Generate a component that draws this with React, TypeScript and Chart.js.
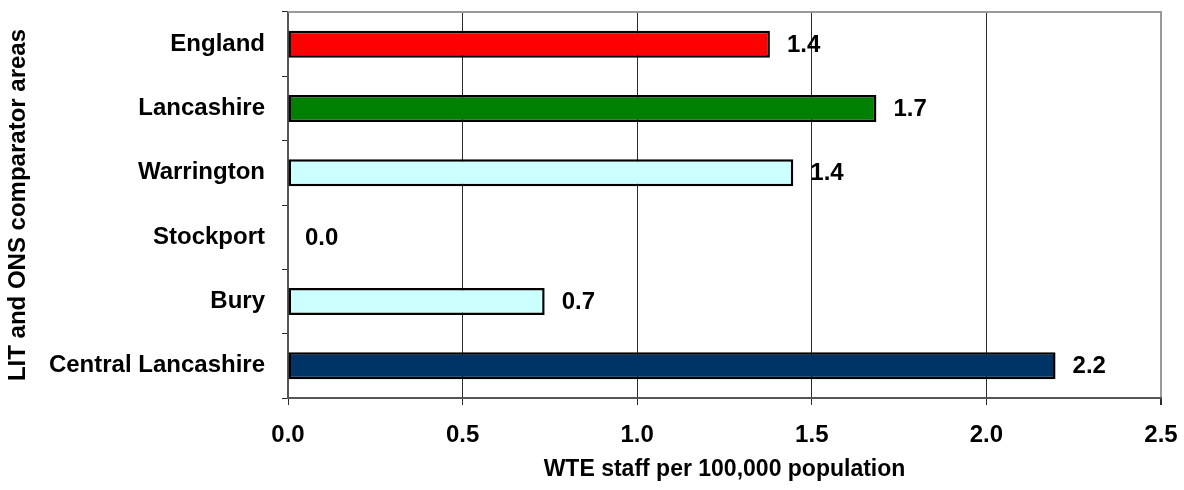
import React, { useEffect, useRef } from "react";
import { Chart, registerables } from "chart.js";

Chart.register(...registerables);

const categories = ["England", "Lancashire", "Warrington", "Stockport", "Bury", "Central Lancashire"];
const values = [1.38, 1.685, 1.447, 0, 0.735, 2.198];
const barColors = ["#FF0000", "#008000", "#CCFFFF", "#CCFFFF", "#CCFFFF", "#003366"];
const xTicks = [0, 0.5, 1, 1.5, 2, 2.5];
const xTitle = "WTE staff per 100,000 population";
const yTitle = "LIT and ONS comparator areas";

const FONT = "'Liberation Sans', Arial, sans-serif";

const valueLabels = {
  id: "valueLabels",
  afterDatasetsDraw(chart: any) {
    const ctx = chart.ctx;
    const meta = chart.getDatasetMeta(0);
    ctx.save();
    ctx.font = `bold 24px ${FONT}`;
    ctx.fillStyle = "#000";
    ctx.textAlign = "left";
    ctx.textBaseline = "middle";
    meta.data.forEach((bar: any, i: number) => {
      const v = chart.data.datasets[0].data[i] as number;
      ctx.fillText(v.toFixed(1), bar.x + 17, bar.y + 1);
    });
    ctx.restore();
  },
};

const topBorder = {
  id: "topBorder",
  afterDraw(chart: any) {
    const { ctx, chartArea } = chart;
    ctx.save();
    ctx.strokeStyle = "#999999";
    ctx.lineWidth = 2;
    ctx.beginPath();
    ctx.moveTo(chartArea.left, chartArea.top);
    ctx.lineTo(chartArea.right + 1, chartArea.top);
    ctx.stroke();
    ctx.restore();
  },
};

export default function App() {
  const ref = useRef<HTMLCanvasElement>(null);
  useEffect(() => {
    document.body.style.margin = "0";
    const chart = new Chart(ref.current!, {
      type: "bar",
      data: {
        labels: categories,
        datasets: [
          {
            data: values,
            backgroundColor: barColors,
            borderColor: "#000000",
            borderWidth: (c: any) => (c.raw === 0 ? 0 : 2.5),
            borderSkipped: false,
            categoryPercentage: 1,
            barPercentage: 0.42,
          },
        ],
      },
      options: {
        indexAxis: "y",
        responsive: false,
        animation: false,
        layout: { padding: { top: 12, right: 23, bottom: 0, left: 0 } },
        plugins: { legend: { display: false }, tooltip: { enabled: false } },
        scales: {
          x: {
            type: "linear",
            min: 0,
            max: 2.5,
            afterBuildTicks: (s: any) => {
              s.ticks = xTicks.map((v) => ({ value: v }));
            },
            afterFit: (s: any) => {
              s.height = 92;
              s.paddingLeft = 0;
              s.paddingRight = 0;
            },
            ticks: {
              callback: (v: any) => Number(v).toFixed(1),
              font: { family: FONT, size: 24, weight: "bold" },
              color: "#000",
              padding: 16,
            },
            grid: {
              color: (c: any) => (c.tick && c.tick.value === 2.5 ? "#999999" : "#2b2b2b"),
              lineWidth: (c: any) => (c.tick && c.tick.value === 2.5 ? 2 : 1),
              tickColor: "#2b2b2b",
              tickLength: 7,
              drawTicks: true,
            },
            border: { color: "#555555", width: 2 },
            title: {
              display: true,
              text: xTitle,
              font: { family: FONT, size: 23, weight: "bold" },
              color: "#000",
              padding: { top: 0, bottom: 7 },
            },
          },
          y: {
            afterFit: (s: any) => {
              s.width = 288;
              s.paddingTop = 0;
              s.paddingBottom = 0;
            },
            ticks: {
              font: { family: FONT, size: 24, weight: "bold" },
              color: "#000",
              padding: 17,
            },
            grid: {
              offset: true,
              drawOnChartArea: false,
              drawTicks: true,
              tickLength: 6,
              tickColor: "#2b2b2b",
            },
            border: { color: "#555555", width: 2 },
            title: {
              display: true,
              text: yTitle,
              font: { family: FONT, size: 24, weight: "bold" },
              color: "#000",
              padding: { top: 4, bottom: 0 },
            },
          },
        },
      },
      plugins: [valueLabels, topBorder],
    });
    return () => chart.destroy();
  }, []);
  return (
    <div style={{ width: 1184, height: 490 }}>
      <canvas ref={ref} width={1184} height={490} style={{ display: "block" }} />
    </div>
  );
}
